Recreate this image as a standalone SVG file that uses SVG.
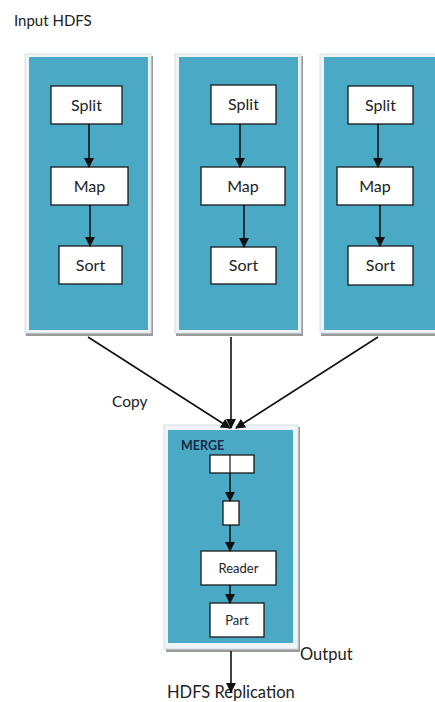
<svg xmlns="http://www.w3.org/2000/svg" width="435" height="702" viewBox="0 0 435 702">
<defs>
<marker id="ah" markerWidth="10" markerHeight="10" refX="9" refY="5" orient="auto" markerUnits="userSpaceOnUse">
<path d="M0,0 L10,5 L0,10 z" fill="#111"/>
</marker>
</defs>
<style>
.shadow{fill:#9a9a9a}
.frame{fill:#eef4f7;stroke:#d5dfe5;stroke-width:1}
.panel{fill:#4aaac5}
.box{fill:#fff;stroke:#1a1a1a;stroke-width:1.3}
.t{font-family:Lato,"Open Sans","Liberation Sans",sans-serif;fill:#222;text-anchor:middle}
.lbl{font-family:Lato,"Open Sans","Liberation Sans",sans-serif;fill:#222}
.ar{stroke:#111;stroke-width:1.6;fill:none;marker-end:url(#ah)}
</style>
<rect width="435" height="702" fill="#fff"/>
<text class="lbl" x="14" y="26" font-size="15">Input HDFS</text>

<g id="mapper1">
<rect class="shadow" x="26" y="56" width="127" height="280"/>
<rect class="frame" x="25" y="54" width="126" height="279"/>
<rect class="panel" x="29" y="57" width="119" height="273"/>
<g id="split1"><rect class="box" x="51" y="86" width="71" height="38"/><text class="t" x="86.5" y="110.5" font-size="16">Split</text></g>
<g id="map1"><rect class="box" x="51" y="167" width="77" height="38"/><text class="t" x="89.5" y="191.5" font-size="16">Map</text></g>
<g id="sort1"><rect class="box" x="59" y="246" width="63" height="38"/><text class="t" x="90.5" y="270.5" font-size="16">Sort</text></g>
</g>

<g id="mapper2">
<rect class="shadow" x="176" y="56" width="127" height="280"/>
<rect class="frame" x="175" y="54" width="126" height="279"/>
<rect class="panel" x="179" y="57" width="119" height="273"/>
<g id="split2"><rect class="box" x="211" y="85" width="65" height="39"/><text class="t" x="243.5" y="110" font-size="16">Split</text></g>
<g id="map2"><rect class="box" x="201" y="167" width="84" height="38"/><text class="t" x="243" y="191.5" font-size="16">Map</text></g>
<g id="sort2"><rect class="box" x="211" y="247" width="65" height="37"/><text class="t" x="243.5" y="271" font-size="16">Sort</text></g>
</g>

<g id="mapper3">
<rect class="shadow" x="321" y="56" width="120" height="280"/>
<rect class="frame" x="320" y="54" width="120" height="279"/>
<rect class="panel" x="324" y="57" width="116" height="273"/>
<g id="split3"><rect class="box" x="348" y="86" width="65" height="38"/><text class="t" x="380.5" y="110.5" font-size="16">Split</text></g>
<g id="map3"><rect class="box" x="337" y="167" width="76" height="38"/><text class="t" x="375" y="191.5" font-size="16">Map</text></g>
<g id="sort3"><rect class="box" x="348" y="246" width="65" height="39"/><text class="t" x="380.5" y="271" font-size="16">Sort</text></g>
</g>

<g id="merge">
<rect class="shadow" x="166" y="427" width="134" height="225"/>
<rect class="frame" x="164" y="425" width="134" height="224"/>
<rect class="panel" x="168" y="430" width="125" height="213"/>
<text x="181" y="450" font-family="Lato,'Open Sans','Liberation Sans',sans-serif" font-size="12.5" font-weight="bold" fill="#1b2a44">MERGE</text>
<g id="buf"><rect class="box" x="210" y="455" width="44" height="18"/><line x1="230" y1="455" x2="230" y2="473" stroke="#1a1a1a" stroke-width="1.2"/></g>
<g id="small"><rect class="box" x="223" y="501" width="16" height="24"/></g>
<g id="reader"><rect class="box" x="201" y="551" width="75" height="34"/><text class="t" x="238.5" y="572.5" font-size="13">Reader</text></g>
<g id="part"><rect class="box" x="210" y="603" width="54" height="34"/><text class="t" x="237" y="624.5" font-size="13">Part</text></g>
</g>

<text class="lbl" x="112" y="407" font-size="15.5">Copy</text>
<text class="lbl" x="300" y="660" font-size="16.5">Output</text>
<text class="lbl" x="167" y="698" font-size="16.5">HDFS Replication</text>

<g id="connectors">
<line class="ar" x1="89" y1="124" x2="89" y2="167"/>
<line class="ar" x1="90" y1="205" x2="90" y2="246"/>
<line class="ar" x1="240" y1="124" x2="240" y2="167"/>
<line class="ar" x1="244" y1="205" x2="244" y2="247"/>
<line class="ar" x1="378" y1="124" x2="378" y2="167"/>
<line class="ar" x1="380" y1="205" x2="380" y2="246"/>
<line class="ar" x1="88" y1="337" x2="230" y2="428"/>
<line class="ar" x1="231" y1="337" x2="231" y2="428"/>
<line class="ar" x1="378" y1="337" x2="236" y2="428"/>
<line class="ar" x1="230" y1="473" x2="230" y2="501"/>
<line class="ar" x1="230" y1="525" x2="230" y2="551"/>
<line class="ar" x1="230" y1="585" x2="230" y2="603"/>
<line class="ar" x1="231" y1="651" x2="231" y2="692"/>
</g>
</svg>
